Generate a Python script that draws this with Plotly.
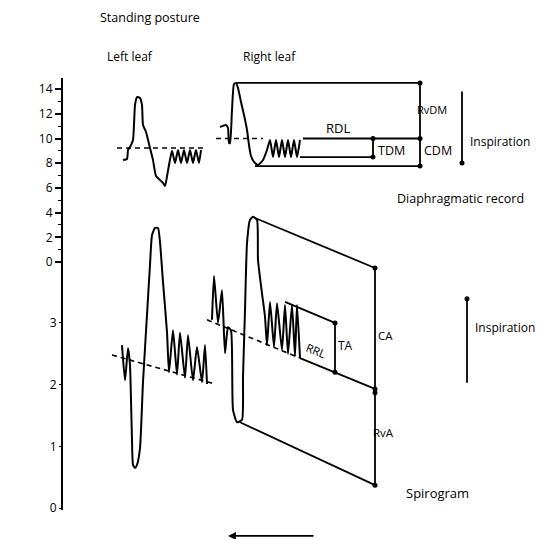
import plotly.graph_objects as go

# ---------------- data (time in arbitrary units) ----------------
# Diaphragmatic record (cm)
left_leaf_t = [123,127,128,130,133,135,137,140,142,143,146,150,153,156,160,163,165,168,172,175,178,181,184,187,190,193,196,199,201]
left_leaf_cm = [8.26,8.34,9.07,9.31,9.88,12.71,13.36,13.28,12.71,11.09,10.53,9.23,8.26,6.96,6.64,6.40,6.15,7.4,9.0,8.02,9.07,8.02,9.07,8.02,9.07,8.02,9.07,8.02,9.07]

right_leaf_t = [220,226,228,229,230,232,234,236,238,241,244,247,249,251,254,258,263,267,270,273,276,279,282,285,288,291,294,297,300]
right_leaf_cm = [10.93,11.09,10.85,9.64,9.64,12.31,14.41,14.49,14.09,12.96,11.90,10.69,9.47,8.58,8.10,7.85,8.26,9.07,9.88,8.50,9.88,8.50,9.88,8.50,9.88,8.50,9.88,8.50,9.88]

# construction lines of the diaphragm record (cm)
diaph_box_t = [236,420,420,None,255,420,None,303,420,None,300,373,373,None,462,462]
diaph_box_cm = [14.5,14.5,7.77,None,7.77,7.77,None,10.0,10.0,None,8.5,8.5,10.0,None,13.8,8.02]
diaph_dot_t = [420,420,420,373,373,462]
diaph_dot_cm = [14.5,10.0,7.77,10.0,8.5,8.02]
diaph_dash_t = [117,207,None,216,263]
diaph_dash_cm = [9.23,9.23,None,10.0,10.0]

# Spirogram (litres)
left_spiro_t = [122,125,128,130,131,132,133,135,137,140,143,147,150,152,155,158,160,163,167,169,173,177,180,185,188,193,197,202,205,207]
left_spiro_l = [2.64,2.07,2.59,2.32,1.75,1.10,0.70,0.65,0.70,0.97,2.04,3.13,3.94,4.42,4.54,4.54,4.31,3.66,2.85,2.20,2.88,2.16,2.84,2.11,2.80,2.07,2.61,2.04,2.64,2.01]

right_spiro_t = [212,214,218,222,225,228,231,233,237,242,243,245,247,250,253,257,258,262,265,267,270,274,277,282,285,288,292,295,297,300]
right_spiro_l = [3.05,3.76,3.00,3.53,2.51,2.93,2.88,1.59,1.39,1.43,2.12,3.21,4.29,4.67,4.72,4.67,4.02,3.48,3.10,2.64,3.34,2.61,3.32,2.56,3.29,2.50,3.29,2.46,3.29,2.43]

spiro_box_t = [255,375,None,375,375,None,240,375,None,285,335,335,None,300,375,None,467,467]
spiro_box_l = [4.70,3.89,None,3.89,0.37,None,1.39,0.37,None,3.34,3.00,2.20,None,2.43,1.93,None,3.39,2.03]
spiro_dot_t = [375,375,375,375,335,335,467]
spiro_dot_l = [3.89,1.93,1.87,0.37,3.00,2.20,3.39]
spiro_dash_t = [112,215,None,207,300]
spiro_dash_l = [2.48,2.01,None,3.05,2.43]

cm_ticks = [0,2,4,6,8,10,12,14]
cm_minor = [1,3,5,7,9,11,13]
litre_ticks = [0,1,2,3]

FONT = "Open Sans"
fig = go.Figure()

def add(x, y, axis, width=2.0, dash=None, smooth=False, mode="lines", size=5):
    line = dict(color="black", width=width)
    if dash:
        line["dash"] = dash
    if smooth:
        line["shape"] = "spline"
        line["smoothing"] = 0.5
    fig.add_trace(go.Scatter(x=x, y=y, yaxis=axis, mode=mode, line=line,
                             marker=dict(color="black", size=size),
                             connectgaps=False, hoverinfo="skip", showlegend=False))

add(left_leaf_t, left_leaf_cm, "y", smooth=True)
add(right_leaf_t, right_leaf_cm, "y", smooth=True)
add(diaph_box_t, diaph_box_cm, "y", width=1.8)
add(diaph_dash_t, diaph_dash_cm, "y", width=1.6, dash="5px,4px")
add(diaph_dot_t, diaph_dot_cm, "y", mode="markers")

add(left_spiro_t, left_spiro_l, "y2", smooth=True)
add(right_spiro_t, right_spiro_l, "y2", smooth=True)
add(spiro_box_t, spiro_box_l, "y2", width=1.8)
add(spiro_dash_t, spiro_dash_l, "y2", width=1.6, dash="5px,4px")
add(spiro_dot_t, spiro_dot_l, "y2", mode="markers")

def label(text, x, y, yref, size=12, angle=0, xref="x"):
    fig.add_annotation(text=text, x=x, y=y, xref=xref, yref=yref, showarrow=False,
                       xanchor="center", yanchor="middle",
                       textangle=angle, font=dict(family=FONT, size=size, color="black"))

label("Standing posture", 150, 1.139, "paper", size=12.5)
label("Left leaf", 130, 1.049, "paper", size=12)
label("Right leaf", 269, 1.049, "paper", size=12)
label("cm", 25, 6.72, "y", size=12)
label("litres", 25, 1.44, "y2", size=11)

label("RDL", 338, 10.85, "y", size=13)
label("TDM", 391, 8.99, "y", size=12.5)
label("CDM", 438, 8.99, "y", size=12.5)
label("RvDM", 432, 12.31, "y", size=11)
label("Inspiration", 500, 9.72, "y", size=12)
label("Diaphragmatic record", 460, 5.18, "y", size=12.5)

label("TA", 345, 2.64, "y2", size=12)
label("CA", 385, 2.80, "y2", size=11.5)
label("RRL", 316, 2.56, "y2", size=11.5, angle=22)
label("RvA", 383, 1.23, "y2", size=11.5)
label("Spirogram", 437, 0.24, "y2", size=13)
label("Inspiration", 505, 2.92, "y2", size=12)

# time direction arrow below the records
fig.add_annotation(x=228, y=-0.060, xref="x", yref="paper", ax=87, ay=0,
                   axref="pixel", ayref="pixel", text="", showarrow=True,
                   arrowhead=2, arrowsize=1, arrowwidth=1.6, arrowcolor="black")

# the page body has an 8px margin, so the figure is sized/offset to fill the window
fig.update_layout(
    width=535, height=531,
    margin=dict(l=55, r=0, t=70, b=29),
    paper_bgcolor="white", plot_bgcolor="white",
    font=dict(family=FONT, size=12, color="black"),
    xaxis=dict(range=[63, 543], visible=False),
    yaxis=dict(range=[-20.08, 14.90], tickvals=cm_ticks, ticktext=[str(v) for v in cm_ticks],
               ticks="outside", ticklen=6, tickwidth=1.6, tickcolor="black",
               showline=True, linewidth=2, linecolor="black",
               showgrid=False, zeroline=False,
               minor=dict(tickvals=cm_minor, ticks="outside", ticklen=3, tickwidth=1.4, tickcolor="black"),
               tickfont=dict(family=FONT, size=12, color="black")),
    yaxis2=dict(range=[-0.032, 6.969], overlaying="y", side="left", anchor="x",
                tickvals=litre_ticks, ticks="outside", ticklen=3, tickwidth=1.4, tickcolor="black",
                showline=False, showgrid=False, zeroline=False,
                tickfont=dict(family=FONT, size=12, color="black")),
)

fig.write_html("out.html")
